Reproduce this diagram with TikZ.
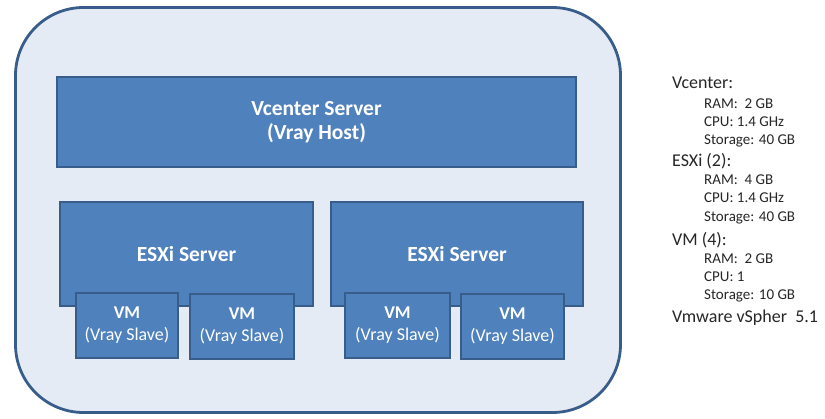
\documentclass[tikz,border=0pt]{standalone}
\usepackage{fontspec}
\setmainfont{Carlito}
\begin{document}
\begin{tikzpicture}[x=1pt,y=-1pt,
  outerbox/.style={draw=borderblue, line width=2.8pt, fill=lightbg, rounded corners=68pt},
  bluebox/.style={draw=borderblue, line width=2.5pt, fill=boxblue, text=white, align=center, inner sep=0pt},
  bigtxt/.style={font=\fontsize{21.5}{24}\selectfont\bfseries},
  vmtxt/.style={font=\fontsize{18}{22}\selectfont},
  headtxt/.style={anchor=base west, inner sep=0pt, text=textdark, font=\fontsize{18}{20}\selectfont},
  subtxt/.style={anchor=base west, inner sep=0pt, text=textdark, font=\fontsize{15}{16}\selectfont}]
\definecolor{boxblue}{HTML}{4F81BD}
\definecolor{borderblue}{HTML}{385D8A}
\definecolor{lightbg}{HTML}{E4EBF5}
\definecolor{textdark}{HTML}{262626}
\useasboundingbox (0,0) rectangle (825,418);
% outer container
\draw[outerbox] (15.5,7.5) rectangle (620.5,412.5);
% vcenter
\node[bluebox, bigtxt, minimum width=519pt, minimum height=90pt] (vc) at (316.5,122) {Vcenter Server\\(Vray Host)};
% ESXi servers
\node[bluebox, bigtxt, minimum width=253pt, minimum height=104pt] (esx1) at (186.5,254) {ESXi Server};
\node[bluebox, bigtxt, minimum width=252pt, minimum height=104pt] (esx2) at (457,254) {ESXi Server};
% VMs
\node[bluebox, vmtxt, minimum width=102pt, minimum height=65pt] (vm1) at (127,325.5) {\textbf{VM}\\(Vray Slave)};
\node[bluebox, vmtxt, minimum width=104pt, minimum height=65pt] (vm2) at (242,326.5) {\textbf{VM}\\(Vray Slave)};
\node[bluebox, vmtxt, minimum width=105pt, minimum height=65pt] (vm3) at (397.5,325.5) {\textbf{VM}\\(Vray Slave)};
\node[bluebox, vmtxt, minimum width=103pt, minimum height=65pt] (vm4) at (512.5,326.5) {\textbf{VM}\\(Vray Slave)};
% specs text
\node[headtxt] (h1) at (672,88) {Vcenter:};
\node[subtxt] (h1a) at (704,108) {RAM:\ \ 2 GB};
\node[subtxt] (h1b) at (704,126) {CPU: 1.4 GHz};
\node[subtxt] (h1c) at (704,144) {Storage: 40 GB};
\node[headtxt] (h2) at (672,166) {ESXi (2):};
\node[subtxt] (h2a) at (704,184) {RAM:\ \ 4 GB};
\node[subtxt] (h2b) at (704,202) {CPU: 1.4 GHz};
\node[subtxt] (h2c) at (704,221) {Storage: 40 GB};
\node[headtxt] (h3) at (672,245) {VM (4):};
\node[subtxt] (h3a) at (704,263) {RAM:\ \ 2 GB};
\node[subtxt] (h3b) at (704,281) {CPU: 1};
\node[subtxt] (h3c) at (704,299) {Storage: 10 GB};
\node[headtxt] (h4) at (672,322) {Vmware vSpher\ \ 5.1};
\end{tikzpicture}
\end{document}
